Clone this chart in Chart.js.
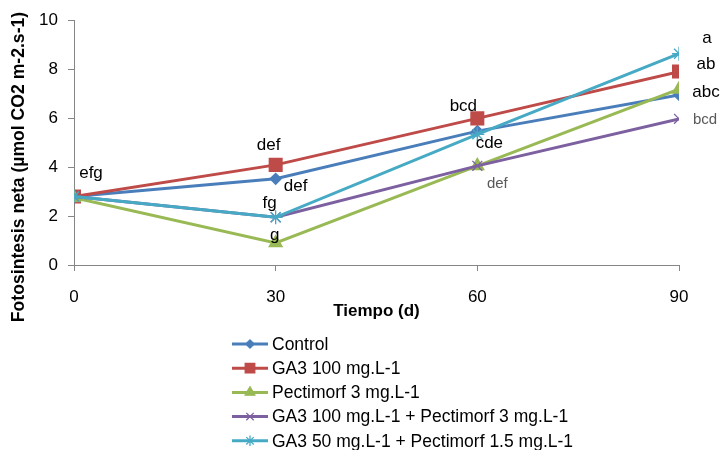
<!DOCTYPE html>
<html>
<head>
<meta charset="utf-8">
<script src="https://cdn.jsdelivr.net/npm/chart.js@4.4.0/dist/chart.umd.js"></script>
<style>
  html, body { margin: 0; padding: 0; background: #fff; }
  #wrap { width: 721px; height: 450px; position: relative; }
</style>
</head>
<body>
<div id="wrap"><canvas id="chart"></canvas></div>
<script>
// days after treatment
const days = [0, 30, 60, 90];

// net photosynthesis per treatment
const control = [2.8, 3.52, 5.47, 6.95];
const ga3 = [2.8, 4.09, 5.99, 7.9];
const pectimorf = [2.75, 0.9, 4.05, 7.18];
const ga3Pect = [2.8, 1.95, 4.05, 5.97];
const ga3HalfPect = [2.8, 1.95, 5.34, 8.63];

const seriesNames = [
    'Control',
    'GA3 100 mg.L-1',
    'Pectimorf 3 mg.L-1',
    'GA3 100 mg.L-1 + Pectimorf 3 mg.L-1',
    'GA3 50 mg.L-1 + Pectimorf 1.5 mg.L-1'
];

const yTicks = [0, 2, 4, 6, 8, 10];

// significance letters: [series index, point index, text]
const letters = [
    [0, 0, 'efg'],
    [1, 1, 'def'],
    [0, 1, 'def'],
    [4, 1, 'fg'],
    [2, 1, 'g'],
    [1, 2, 'bcd'],
    [4, 2, 'cde'],
    [2, 2, 'def'],
    [4, 3, 'a'],
    [1, 3, 'ab'],
    [2, 3, 'abc'],
    [3, 3, 'bcd']
];

// pixel offsets for the letters, same order as above
const letterOffsets = [
    [17, -23], [-7, -20], [20, 7], [-6, -14], [-1, -8], [-14, -12],
    [12, 9], [20, 18], [28, -15], [27, -7], [27, 3], [26, 1]
];
const letterGray = [false, false, false, false, false, false, false, true, false, false, false, true];

const FONT = '"Liberation Sans", Arial, sans-serif';

const styles = [
    { color: '#4A7EBB', point: 'rectRot', radius: 5.5 },
    { color: '#BE4B48', point: 'rect', radius: 9 },
    { color: '#98B954', point: 'triangle', radius: 7.5 },
    { color: '#7D60A0', point: 'crossRot', radius: 7 },
    { color: '#46AAC5', point: 'star', radius: 7 }
];

const allValues = [control, ga3, pectimorf, ga3Pect, ga3HalfPect];

const datasets = allValues.map((vals, i) => ({
    label: seriesNames[i],
    data: days.map((d, j) => ({ x: d, y: vals[j] })),
    borderColor: styles[i].color,
    backgroundColor: styles[i].color,
    borderWidth: 3,
    pointStyle: styles[i].point,
    pointRadius: styles[i].radius,
    pointHoverRadius: styles[i].radius,
    pointBorderColor: styles[i].color,
    pointBackgroundColor: styles[i].color,
    pointBorderWidth: 1.3,
    tension: 0,
    order: allValues.length - i
}));

const extrasPlugin = {
    id: 'extras',
    afterDatasetsDraw(chart) {
        const ctx = chart.ctx;
        const xs = chart.scales.x;
        const ys = chart.scales.y;
        ctx.save();
        ctx.textAlign = 'center';
        ctx.textBaseline = 'middle';
        letters.forEach((l, k) => {
            const px = xs.getPixelForValue(days[l[1]]);
            const py = ys.getPixelForValue(allValues[l[0]][l[1]]);
            if (letterGray[k]) {
                ctx.fillStyle = '#595959';
                ctx.font = '15px ' + FONT;
            } else {
                ctx.fillStyle = '#000';
                ctx.font = '17px ' + FONT;
            }
            ctx.fillText(l[2], px + letterOffsets[k][0], py + letterOffsets[k][1]);
        });

        // y axis title
        ctx.save();
        ctx.translate(19, 167);
        ctx.rotate(-Math.PI / 2);
        ctx.fillStyle = '#000';
        ctx.font = 'bold 17.6px ' + FONT;
        ctx.fillText('Fotosintesis neta (µmol CO2 m-2.s-1)', 0, 0);
        ctx.restore();

        // legend
        ctx.textAlign = 'left';
        ctx.font = '17.5px ' + FONT;
        chart.data.datasets.forEach((ds, i) => {
            const y = 344 + i * 24.2;
            ctx.strokeStyle = ds.borderColor;
            ctx.lineWidth = 3;
            ctx.beginPath();
            ctx.moveTo(232, y);
            ctx.lineTo(268, y);
            ctx.stroke();
            ctx.fillStyle = ds.borderColor;
            ctx.lineWidth = 1.3;
            Chart.helpers.drawPoint(ctx, {
                pointStyle: ds.pointStyle,
                radius: ds.pointRadius * 0.75,
                rotation: 0,
                borderWidth: 1.3
            }, 250, y);
            ctx.fillStyle = '#000';
            ctx.fillText(ds.label, 272, y + 1);
        });
        ctx.restore();
    }
};

new Chart(document.getElementById('chart'), {
    type: 'line',
    data: { datasets },
    options: {
        responsive: true,
        maintainAspectRatio: false,
        animation: false,
        layout: { padding: { left: 0, right: 42, top: 18, bottom: 125 } },
        plugins: {
            legend: { display: false },
            tooltip: { enabled: false }
        },
        scales: {
            x: {
                type: 'linear',
                min: 0,
                max: 90,
                afterBuildTicks: (s) => { s.ticks = days.map(v => ({ value: v })); },
                afterFit: (s) => { s.height = 60; },
                grid: { drawOnChartArea: false, tickLength: 6, color: '#868686' },
                border: { color: '#868686' },
                ticks: {
                    padding: 16,
                    color: '#000',
                    font: { family: FONT, size: 17 },
                    maxRotation: 0
                },
                title: {
                    display: true,
                    text: 'Tiempo (d)',
                    color: '#000',
                    font: { family: FONT, size: 17, weight: 'bold' },
                    padding: { top: 0, bottom: 3 }
                }
            },
            y: {
                min: 0,
                max: 10,
                afterBuildTicks: (s) => { s.ticks = yTicks.map(v => ({ value: v })); },
                afterFit: (s) => { s.width = 74; },
                grid: { drawOnChartArea: false, tickLength: 6, color: '#868686' },
                border: { color: '#868686' },
                ticks: {
                    padding: 10,
                    color: '#000',
                    font: { family: FONT, size: 17 }
                }
            }
        }
    },
    plugins: [extrasPlugin]
});
</script>
</body>
</html>
